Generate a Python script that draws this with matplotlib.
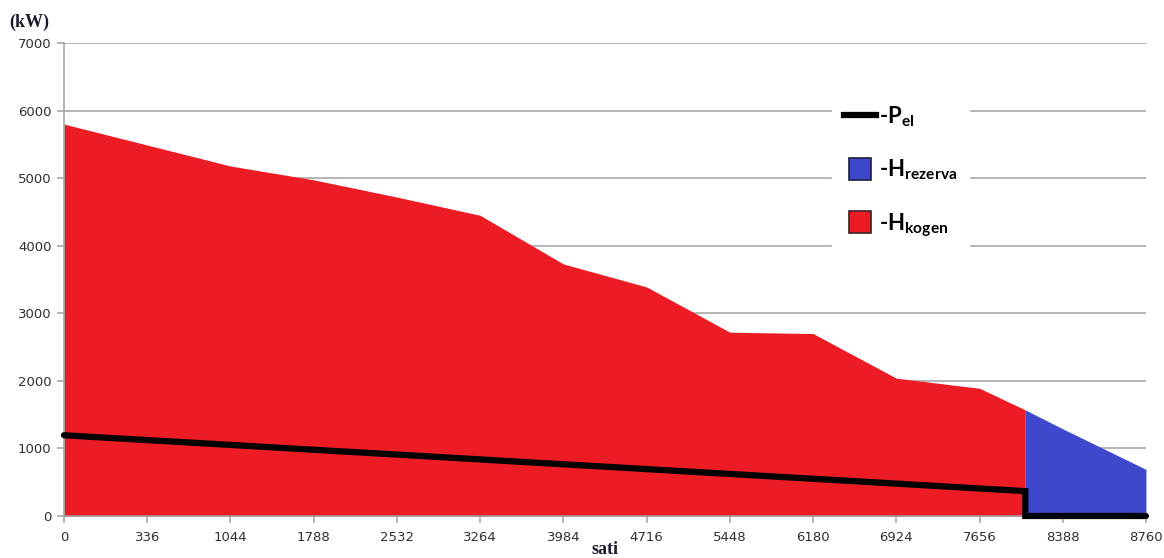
import matplotlib
matplotlib.use('Agg')
import matplotlib.pyplot as plt
from matplotlib.lines import Line2D

# x axis is categorical: hour labels sit at evenly spaced positions
hour_labels = ['0', '336', '1044', '1788', '2532', '3264', '3984', '4716',
               '5448', '6180', '6924', '7656', '8388', '8760']

# heat from cogeneration (red area), last point is where reserve takes over
kogen_x = [0, 1, 2, 3, 4, 5, 6, 7, 8, 9, 10, 11, 11.55]
kogen_kw = [5800, 5490, 5180, 4975, 4720, 4450, 3730, 3390, 2720, 2700, 2040, 1890, 1570]

# heat from reserve boiler (blue area)
rezerva_x = [11.55, 12, 13]
rezerva_kw = [1570, 1290, 690]

# electric power (black line)
pel_x = [0, 1, 2, 3, 4, 5, 6, 7, 8, 9, 10, 11, 11.55, 11.55, 13]
pel_kw = [1195, 1123, 1052, 980, 909, 837, 765, 694, 622, 551, 479, 407, 368, 0, 0]

red = '#ED1C24'
blue = '#3F48CC'

plt.rcParams['mathtext.fontset'] = 'custom'
plt.rcParams['mathtext.bf'] = 'Lato:bold'
plt.rcParams['mathtext.rm'] = 'Lato'

fig = plt.figure(figsize=(11.64, 5.58), dpi=100)
ax = fig.add_axes([0.055, 0.0753, 0.9295, 0.8476])

ax.fill_between(kogen_x, kogen_kw, 0, color=red, lw=0, zorder=2)
ax.fill_between(rezerva_x, rezerva_kw, 0, color=blue, lw=0, zorder=2)
ax.plot(pel_x, pel_kw, color='black', lw=4.5, solid_capstyle='round',
        solid_joinstyle='miter', zorder=3, clip_on=False)

ax.set_xlim(0, 13)
ax.set_ylim(0, 7000)
ax.set_xticks(range(len(hour_labels)))
ax.set_xticklabels(hour_labels)
ax.set_yticks(range(0, 7001, 1000))

ax.grid(axis='y', color='#a0a0a0', lw=1.1, zorder=1)
ax.set_axisbelow(True)
for s in ['top', 'right']:
    ax.spines[s].set_visible(False)
for s in ['left', 'bottom']:
    ax.spines[s].set_color('#a0a0a0')
    ax.spines[s].set_linewidth(1.1)
ax.tick_params(axis='both', colors='#a0a0a0', labelcolor='#303030',
               labelsize=9.5, length=5, width=1.1)
ax.tick_params(axis='x', pad=6)
ax.tick_params(axis='y', pad=4)

fig.text(0.008, 0.952, '(kW)', fontsize=13, fontweight='bold',
         family='Liberation Serif', color='#1a1a2e')
fig.text(0.52, 0.0, 'sati', fontsize=13, fontweight='bold',
         family='Liberation Serif', color='#1a1a2e', ha='center', va='bottom')

handles = [
    Line2D([], [], color='black', lw=4.5),
    Line2D([], [], marker='s', ls='none', markersize=16,
           markerfacecolor=blue, markeredgecolor='#202040', markeredgewidth=1.2),
    Line2D([], [], marker='s', ls='none', markersize=16,
           markerfacecolor=red, markeredgecolor='#402020', markeredgewidth=1.2),
]
labels = [r'-P$_{\mathbf{el}}$', r'-H$_{\mathbf{rezerva}}$', r'-H$_{\mathbf{kogen}}$']
leg = ax.legend(handles, labels, loc='upper left', bbox_to_anchor=(0.7, 0.918),
                frameon=True, fancybox=False, edgecolor='white', framealpha=1,
                handlelength=1.45, handletextpad=0.15, labelspacing=1.3,
                borderpad=0.5, prop={'family': 'Lato', 'weight': 'bold', 'size': 16})
leg.set_zorder(5)

fig.savefig('out.png', dpi=100)
